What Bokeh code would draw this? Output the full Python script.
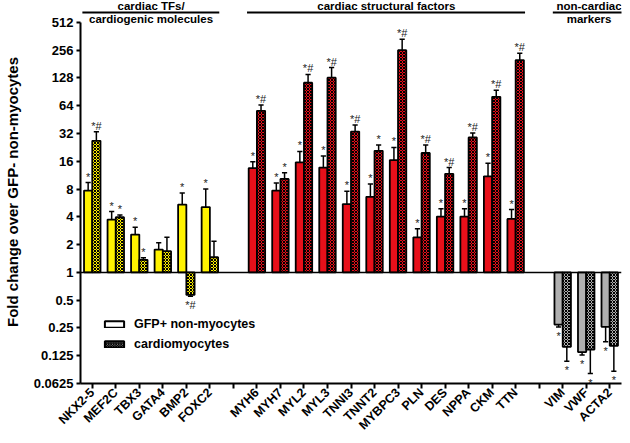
import math
from bokeh.plotting import figure
from bokeh.models import (FixedTicker, CustomJSTickFormatter, Span, Legend, LegendItem,
                          ColumnDataSource, Range1d)
from bokeh.core.properties import value
from bokeh.embed import file_html
from bokeh.resources import INLINE

# ---------------- data ----------------
group_titles_top = ["cardiac TFs/", "cardiac structural factors", "non-cardiac"]
group_titles_bottom = ["cardiogenic molecules", "", "markers"]
group_genes = [
    ["NKX2-5", "MEF2C", "TBX3", "GATA4", "BMP2", "FOXC2"],
    ["MYH6", "MYH7", "MYL2", "MYL3", "TNNI3", "TNNT2", "MYBPC3", "PLN", "DES", "NPPA", "CKM", "TTN"],
    ["VIM", "VWF", "ACTA2"],
]
group_colors = ["#FFF200", "#E8101A", "#B0B0B0"]

# GFP+ non-myocytes (fold change) and error-bar tips
gfp_vals = [7.7, 3.74, 2.57, 1.77, 5.43, 5.1,
            13.5, 7.7, 15.6, 13.7, 5.5, 6.6, 16.5, 2.4, 4.03, 4.03, 11.0, 3.8,
            0.272, 0.137, 0.257]
gfp_tips = [9.4, 4.56, 3.09, 2.09, 7.27, 8.0,
            15.8, 9.3, 20.5, 18.3, 7.6, 9.1, 22.6, 2.97, 4.9, 4.9, 15.2, 4.8,
            0.256, 0.127, 0.177]
gfp_sig = ["*", "*", "*", "", "*", "*",
           "*", "*", "*", "*", "*", "*", "*", "*", "*", "*", "*", "*",
           "*", "*", "*"]

# cardiomyocytes
cm_vals = [26.7, 3.96, 1.37, 1.7, 0.57, 1.46,
           56.4, 10.3, 114, 129, 33.6, 20.8, 256, 19.7, 11.7, 29, 80, 200,
           0.156, 0.146, 0.16]
cm_tips = [33.4, 4.2, 1.44, 2.41, 0.55, 2.18,
           65.4, 12.0, 140, 166, 39.5, 24, 336, 24, 13.7, 32.4, 94, 237,
           0.109, 0.080, 0.085]
cm_sig = ["*#", "*", "*", "", "*#", "",
          "*#", "*", "*#", "*#", "*#", "*", "*#", "*#", "*#", "*#", "*#", "*#",
          "*", "*", "*"]

y_ticks = [0.0625, 0.125, 0.25, 0.5, 1, 2, 4, 8, 16, 32, 64, 128, 256, 512]
legend_labels = ["GFP+ non-myocytes", "cardiomyocytes"]
y_title = "Fold change over GFP- non-myocytes"

# ---------------- layout helpers ----------------
FONT = "Liberation Sans"
BAR_W = 0.35
CAP_W = 0.22
FIG_H = 440
FRAME_H = 384
TOP_GAP = 22  # px between frame top and the 512 tick
px_per_doubling = (FRAME_H - TOP_GAP) / 13.0
Y_TOP_EXP = 9 + TOP_GAP / px_per_doubling

genes, xs, colors, group_pos = [], [], [], []
idx = 0
for gi, g in enumerate(group_genes):
    start = idx
    for gene in g:
        genes.append(gene)
        xs.append(idx)
        colors.append(group_colors[gi])
        idx += 1
    group_pos.append((start, idx - 1))
    idx += 1
n_pos = xs[-1] + 1

p = figure(width=622, height=FIG_H, y_axis_type="log",
           x_range=Range1d(-0.5, n_pos - 0.5), y_range=Range1d(y_ticks[0], 2 ** Y_TOP_EXP),
           output_backend="svg", toolbar_location=None,
           min_border_left=78, min_border_right=1, min_border_top=0, min_border_bottom=FIG_H - FRAME_H)
p.grid.visible = False
p.outline_line_color = None
p.background_fill_color = "white"
p.border_fill_color = "white"

# axes
p.yaxis.ticker = FixedTicker(ticks=y_ticks)
p.yaxis.formatter = CustomJSTickFormatter(code="return String(tick);")
p.yaxis.bounds = (y_ticks[0], y_ticks[-1])
p.yaxis.axis_label = y_title
p.yaxis.axis_label_text_font = FONT
p.yaxis.axis_label_text_font_style = "bold"
p.yaxis.axis_label_text_font_size = "15px"
p.yaxis.axis_label_standoff = 10
p.yaxis.major_label_text_font = FONT
p.yaxis.major_label_text_font_style = "bold"
p.yaxis.major_label_text_font_size = "13px"
p.yaxis.major_label_standoff = 3
p.yaxis.major_tick_in = 0
p.yaxis.major_tick_out = 4
p.yaxis.minor_tick_line_color = None

p.xaxis.ticker = FixedTicker(ticks=list(range(n_pos)))
overrides = {i: "" for i in range(n_pos)}
for x, g in zip(xs, genes):
    overrides[x] = g
p.xaxis.major_label_overrides = overrides
p.xaxis.major_label_orientation = math.pi / 4
p.xaxis.major_label_text_font = FONT
p.xaxis.major_label_text_font_style = "bold"
p.xaxis.major_label_text_font_size = "12.5px"
p.xaxis.major_label_standoff = 2
p.xaxis.major_tick_in = 0
p.xaxis.major_tick_out = 5
p.xaxis.minor_tick_line_color = None

for ax in (p.xaxis, p.yaxis):
    ax.axis_line_width = 2
    ax.major_tick_line_width = 2
    ax.axis_line_color = "black"
    ax.major_tick_line_color = "black"
    ax.major_label_text_color = "black"
    ax.axis_label_text_color = "black"

# baseline at 1
p.add_layout(Span(location=1, dimension="width", line_color="black", line_width=1.5))


def draw_series(offset, vals, tips, sigs, hatch):
    bx = [x + offset for x in xs]
    src = ColumnDataSource(dict(x=bx, top=vals, color=colors))
    # error bars
    p.segment(x0=bx, y0=vals, x1=bx, y1=tips, line_color="black", line_width=1.5)
    p.segment(x0=[x - CAP_W / 2 for x in bx], y0=tips, x1=[x + CAP_W / 2 for x in bx], y1=tips,
              line_color="black", line_width=1.5)
    kw = dict(x="x", top="top", bottom=1, width=BAR_W, fill_color="color",
              line_color="black", line_width=1.8, source=src)
    if hatch:
        kw.update(hatch_pattern="diagonal_cross", hatch_color="black", hatch_scale=3, hatch_weight=1)
    p.vbar(**kw)
    up_x, up_y, up_t, dn_x, dn_y, dn_t = [], [], [], [], [], []
    for x, v, t, s in zip(bx, vals, tips, sigs):
        if not s:
            continue
        if v >= 1:
            up_x.append(x); up_y.append(t); up_t.append(s)
        else:
            dn_x.append(x); dn_y.append(t); dn_t.append(s)
    p.text(x=up_x, y=up_y, text=up_t, text_align="center", text_baseline="middle", y_offset=-6,
           text_font=value(FONT), text_font_size="11px", text_color="#222222")
    p.text(x=dn_x, y=dn_y, text=dn_t, text_align="center", text_baseline="middle", y_offset=9,
           text_font=value(FONT), text_font_size="11px", text_color="#222222")


draw_series(-BAR_W / 2, gfp_vals, gfp_tips, gfp_sig, False)
draw_series(BAR_W / 2, cm_vals, cm_tips, cm_sig, True)

# group headers (positions given in px below the frame top)
def y_at(px_from_top):
    return 2 ** (Y_TOP_EXP - px_from_top / px_per_doubling)

y_t1, y_ln, y_t2 = y_at(5.5), y_at(12), y_at(18.5)
for (a, b), t1, t2 in zip(group_pos, group_titles_top, group_titles_bottom):
    last = b >= n_pos - 1
    right = n_pos if last else b + 0.4
    p.segment(x0=[a - 0.42], y0=[y_ln], x1=[right], y1=[y_ln], line_color="black", line_width=2)
    cx = (a + b) / 2 + (0.12 if last else 0)
    p.text(x=[cx], y=[y_t1], text=[t1], text_align="center", text_baseline="middle",
           text_font=value(FONT), text_font_style="bold", text_font_size="11.5px", text_color="black")
    if t2:
        p.text(x=[cx], y=[y_t2], text=[t2], text_align="center", text_baseline="middle",
               text_font=value(FONT), text_font_style="bold", text_font_size="11.5px", text_color="black")

# legend (swatch-only renderers with a single undefined point, so nothing is drawn in the plot)
nan = float("nan")
r1 = p.vbar(x=[nan], top=[nan], bottom=1, width=BAR_W, fill_color="white", line_color="black", line_width=2)
r2 = p.vbar(x=[nan], top=[nan], bottom=1, width=BAR_W, fill_color="#DDDDDD", line_color="black", line_width=2,
            hatch_pattern="diagonal_cross", hatch_color="black", hatch_scale=2.5, hatch_weight=1.5)
legend = Legend(items=[LegendItem(label=legend_labels[0], renderers=[r1]),
                       LegendItem(label=legend_labels[1], renderers=[r2])],
                location=(22, 32), glyph_width=24, glyph_height=8, label_standoff=8,
                spacing=6, label_height=14, padding=0, margin=0,
                border_line_color=None, background_fill_alpha=0,
                label_text_font=FONT, label_text_font_style="bold", label_text_font_size="12.5px",
                label_text_color="black")
p.add_layout(legend)

open("out.html", "w").write(file_html(p, INLINE))
